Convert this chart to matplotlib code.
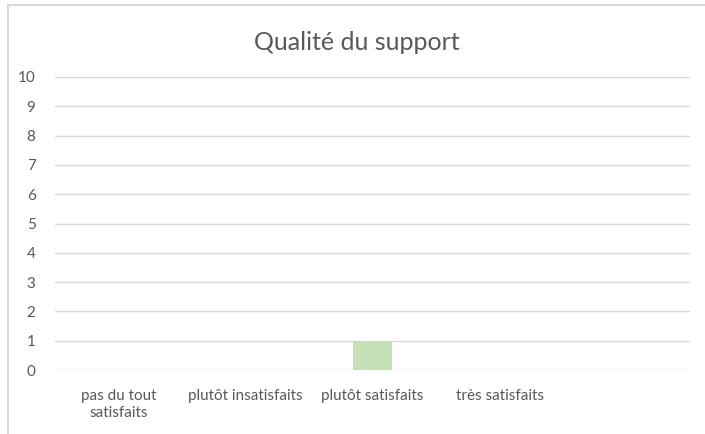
import matplotlib.pyplot as plt
from matplotlib.patches import Rectangle

categories = ['pas du tout\nsatisfaits', 'plutôt insatisfaits', 'plutôt satisfaits', 'très satisfaits', '']
values = [0, 0, 1, 0, 0]
title = 'Qualité du support'

plt.rcParams['font.family'] = ['Lato', 'DejaVu Sans']
txt = '#595959'

fig = plt.figure(figsize=(7.05, 4.34), dpi=100)
fig.patch.set_facecolor('white')

# cadre gris du graphique (coupe a droite et en bas)
fig.patches.append(Rectangle((8 / 705, -0.1), 1.2, 1 - 5 / 434 + 0.1, transform=fig.transFigure,
                             fill=False, edgecolor='#d9d9d9', linewidth=1.5))

ax = fig.add_axes([55 / 705, 1 - 370 / 434, 635 / 705, 293 / 434])
x = range(len(categories))
ax.bar(x, values, width=0.3, color='#c5e0b4', zorder=3)

ax.set_xlim(-0.5, len(categories) - 0.5)
ax.set_ylim(0, 10)
ax.set_yticks(range(0, 11))
ax.set_xticks(list(x))
ax.set_xticklabels(categories, color=txt, fontsize=11, linespacing=1.2)
ax.tick_params(axis='y', labelcolor=txt, labelsize=11, length=0, pad=14)
ax.tick_params(axis='x', length=0, pad=14)
ax.grid(axis='y', color='#d9d9d9', linewidth=1, zorder=0)
for s in ax.spines.values():
    s.set_visible(False)

fig.text(0.5 + 8 / 705 / 2, 1 - 42 / 434, title, ha='center', va='center', fontsize=18, color=txt)

fig.savefig('out.png', dpi=100)
